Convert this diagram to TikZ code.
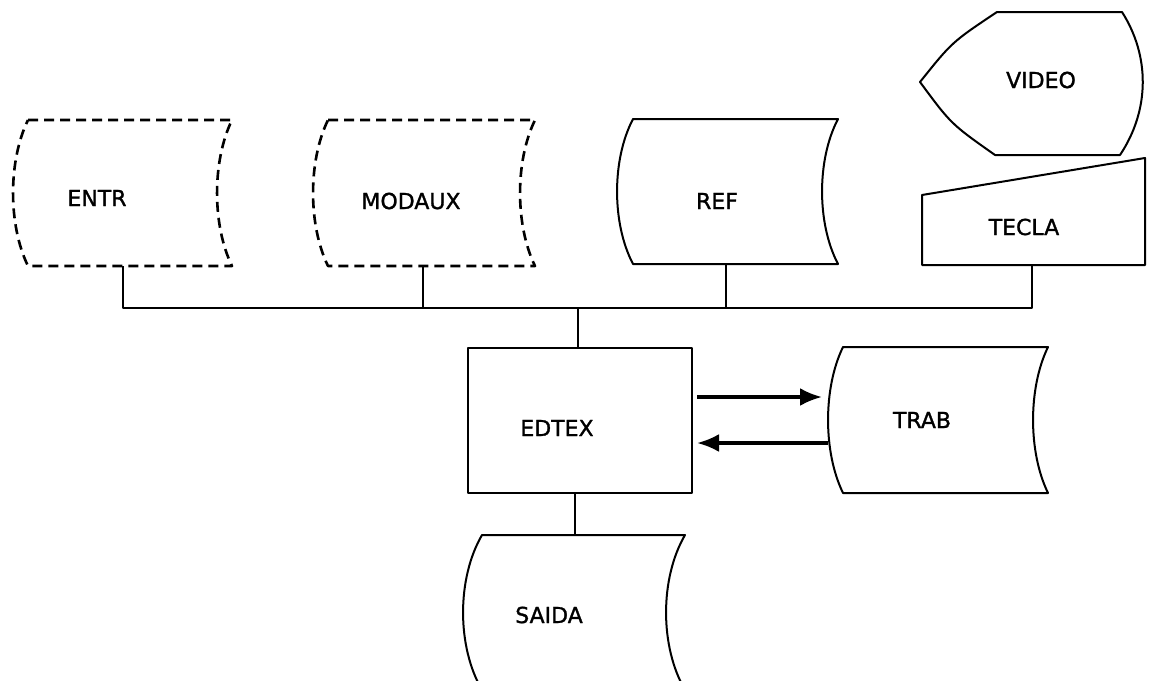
\documentclass[tikz,border=0pt]{standalone}
\usepackage{fontspec}
\setmainfont{DejaVu Sans}[BoldFont=DejaVu Sans,BoldFeatures={FakeBold=1.3}]
\usetikzlibrary{arrows.meta}
\newcommand\mystore[6]{%
  \draw[#6] (#1,#3) -- (#2,#3)
    .. controls ({#2-1.33*#5},{#3+0.28*(#4-#3)}) and ({#2-1.33*#5},{#4-0.28*(#4-#3)}) .. (#2,#4)
    -- (#1,#4)
    .. controls ({#1-1.33*#5},{#4-0.28*(#4-#3)}) and ({#1-1.33*#5},{#3+0.28*(#4-#3)}) .. cycle;}
\begin{document}
\begin{tikzpicture}[x=0.5pt,y=-0.5pt,line width=1pt,line join=round,
  lbl/.style={font=\fontsize{11}{13}\bfseries},
  dsh/.style={dash pattern=on 5pt off 3pt,line width=1.3pt},
  sol/.style={},
  arr/.style={line width=1.7pt,-{Latex[length=11pt,width=9pt]}}]
\clip (0,0) rectangle (1155,680);
% storage shapes
\mystore{28}{232}{120}{266}{15}{dsh}
\mystore{328}{535}{120}{266}{15}{dsh}
\mystore{633}{838}{119}{264}{16}{sol}
\mystore{843}{1048}{347}{493}{15}{sol}
\mystore{482}{685}{535}{690}{19}{sol}
% display
\draw (997,12) -- (1122,12) .. controls (1150,56) and (1150,110) .. (1120,155)
  -- (995,155) .. controls (951,124) .. (920,82) .. controls (952,42) .. cycle;
% manual input
\draw (922,195) -- (1145,158) -- (1145,265) -- (922,265) -- cycle;
% process
\node[draw,minimum width=112pt,minimum height=72.5pt,inner sep=0pt] (edtex) at (580,420.5) {};
% labels
\node[lbl] (entr) at (97,198) {ENTR};
\node[lbl] (modaux) at (411,201) {MODAUX};
\node[lbl] (ref) at (717,201) {REF};
\node[lbl] (video) at (1041,80) {VIDEO};
\node[lbl] (tecla) at (1024,227) {TECLA};
\node[lbl] (edtexL) at (557,428) {EDTEX};
\node[lbl] (trab) at (922,420) {TRAB};
\node[lbl] (saida) at (549,615) {SAIDA};
% connection points
\coordinate (entrB) at (123,266);
\coordinate (modB) at (423,266);
\coordinate (refB) at (726,264);
\coordinate (teclaB) at (1032,265);
\coordinate (bus) at (578,308);
\coordinate (saidaT) at (575,535);
\coordinate (trabIn) at (822,397);
\coordinate (trabOut) at (828,443);
% connectors
\draw (entrB) |- (teclaB |- bus) -- (teclaB);
\draw (modB) -- (modB |- bus);
\draw (refB) -- (refB |- bus);
\draw (bus) -- (bus |- edtex.north);
\draw (saidaT |- edtex.south) -- (saidaT);
\draw[arr] ([xshift=2pt]edtex.east |- trabIn) -- (trabIn);
\draw[arr] (trabOut) -- ([xshift=2pt]edtex.east |- trabOut);
\end{tikzpicture}
\end{document}
